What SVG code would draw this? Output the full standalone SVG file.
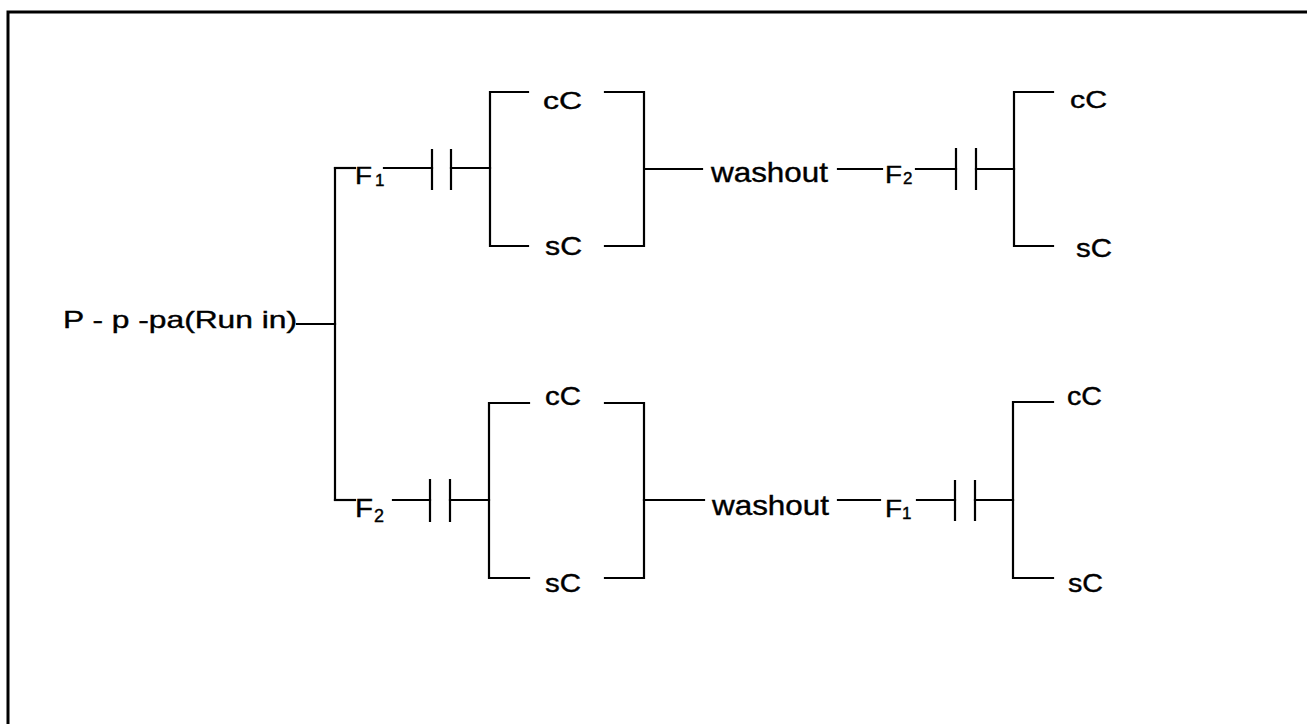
<svg xmlns="http://www.w3.org/2000/svg" width="1307" height="724" viewBox="0 0 1307 724">
<style>
.ln{stroke:#000;stroke-width:2.2;fill:none;stroke-linecap:square}
.bd{stroke:#000;stroke-width:3;fill:none}
.t{font-family:"Liberation Sans",Arial,sans-serif;fill:#000;stroke:#000;stroke-width:0.4}
</style>
<rect width="1307" height="724" fill="#fff"/>
<g id="frame">
<path class="bd" d="M8,724 V12 H1307"/>
</g>
<g id="connectors">
<path class="ln" d="M297,324 H335"/>
<path class="ln" d="M335,168 V500"/>
<path class="ln" d="M335,168 H355"/>
<path class="ln" d="M384,168 H432 M451,168 H490"/>
<path class="ln" d="M645,169 H702"/>
<path class="ln" d="M838,169 H882"/>
<path class="ln" d="M916,169 H956 M976,169 H1014"/>
<path class="ln" d="M335,500 H355"/>
<path class="ln" d="M393,500 H430 M450,500 H489"/>
<path class="ln" d="M644,500 H704"/>
<path class="ln" d="M838,500 H880"/>
<path class="ln" d="M917,500 H955 M975,500 H1013"/>
</g>
<g id="cap1"><path class="ln" d="M432,150 V189 M451,150 V189"/></g>
<g id="cap2"><path class="ln" d="M956,149 V189 M976,149 V189"/></g>
<g id="cap3"><path class="ln" d="M430,480 V521 M450,480 V521"/></g>
<g id="cap4"><path class="ln" d="M955,481 V520 M975,481 V520"/></g>
<g id="box1">
<path class="ln" d="M528,92 H490 V246 H528"/>
<path class="ln" d="M605,92 H644 V246 H605"/>
<text class="t" x="543" y="109" font-size="24" textLength="39" lengthAdjust="spacingAndGlyphs">cC</text>
<text class="t" x="545" y="255" font-size="25" textLength="37" lengthAdjust="spacingAndGlyphs">sC</text>
</g>
<g id="box2">
<path class="ln" d="M1053,92 H1014 V246 H1053"/>
<text class="t" x="1070" y="108" font-size="24" textLength="37" lengthAdjust="spacingAndGlyphs">cC</text>
<text class="t" x="1076" y="257" font-size="25" textLength="36" lengthAdjust="spacingAndGlyphs">sC</text>
</g>
<g id="box3">
<path class="ln" d="M529,403 H489 V578 H529"/>
<path class="ln" d="M605,403 H644 V578 H605"/>
<text class="t" x="545" y="405" font-size="25" textLength="36" lengthAdjust="spacingAndGlyphs">cC</text>
<text class="t" x="545" y="592" font-size="25" textLength="36" lengthAdjust="spacingAndGlyphs">sC</text>
</g>
<g id="box4">
<path class="ln" d="M1053,402 H1013 V578 H1053"/>
<text class="t" x="1067" y="405" font-size="25" textLength="35" lengthAdjust="spacingAndGlyphs">cC</text>
<text class="t" x="1068" y="592" font-size="25" textLength="35" lengthAdjust="spacingAndGlyphs">sC</text>
</g>
<g id="label">
<text class="t" x="63" y="328" font-size="24" textLength="234" lengthAdjust="spacingAndGlyphs">P - p -pa(Run in)</text>
</g>
<g id="f1-top">
<text class="t" x="355" y="184" font-size="24" textLength="17" lengthAdjust="spacingAndGlyphs">F</text>
<text class="t" x="375" y="186" font-size="17">1</text>
</g>
<g id="washout-top">
<text class="t" x="711" y="182" font-size="28" textLength="117" lengthAdjust="spacingAndGlyphs">washout</text>
</g>
<g id="f2-top">
<text class="t" x="885" y="183" font-size="23" textLength="17" lengthAdjust="spacingAndGlyphs">F</text>
<text class="t" x="903" y="184" font-size="17">2</text>
</g>
<g id="f2-bottom">
<text class="t" x="355" y="517" font-size="26" textLength="18" lengthAdjust="spacingAndGlyphs">F</text>
<text class="t" x="374" y="522" font-size="18">2</text>
</g>
<g id="washout-bottom">
<text class="t" x="712" y="515" font-size="28" textLength="117" lengthAdjust="spacingAndGlyphs">washout</text>
</g>
<g id="f1-bottom">
<text class="t" x="885" y="517" font-size="24" textLength="17" lengthAdjust="spacingAndGlyphs">F</text>
<text class="t" x="902" y="519" font-size="17">1</text>
</g>
</svg>
